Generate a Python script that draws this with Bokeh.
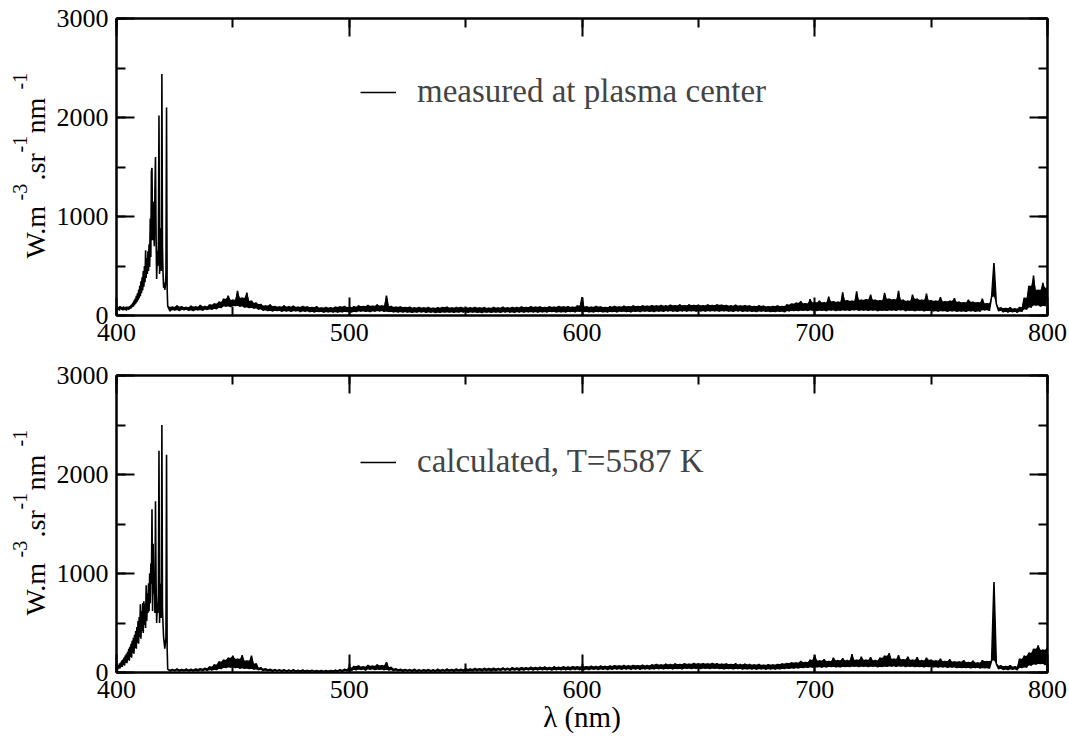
import numpy as np
from bokeh.plotting import figure
from bokeh.models import Range1d, LinearAxis, SingleIntervalTicker, Label, Legend, CustomJSTickFormatter
from bokeh.layouts import column, row
from bokeh.embed import file_html
from bokeh.resources import INLINE

# ---------------- data ----------------
# fine sampling (0.25 nm) from 400.00 to 421.75 nm, coarse (1 nm) from 422 to 800 nm
FINE_START, FINE_STEP = 400.0, 0.25
COARSE_START, COARSE_STEP = 422.0, 1.0

MEASURED_FINE = [
    85, 55, 90, 60,   80, 50, 95, 65,   88, 58, 82, 52,   92, 60, 78, 55,
    86, 50, 90, 62,   84, 58, 95, 66,   100, 72, 112, 85,  130, 90, 150, 105,
    170, 120, 200, 135,  225, 155, 260, 175,  300, 195, 345, 225,  385, 255, 450, 290,
    500, 335, 660, 380,  580, 420, 650, 450,  720, 490, 980, 590,  1450, 1490, 760, 1150,
    900, 700, 1250, 1600,  820, 370, 650, 500,  720, 2020, 420, 880,  650, 450, 2440, 700,
    420, 280, 330, 260,  300, 420, 2100, 280,
]
MEASURED_COARSE = [
    95, 45, 88, 52, 100, 48, 92, 55, 85, 50,
    98, 46, 90, 54, 105, 50, 94, 58, 110, 60,
    120, 65, 140, 75, 170, 90, 200, 85, 160, 95,
    250, 90, 180, 80, 230, 75, 150, 70, 130, 60,
    115, 50, 100, 45, 110, 42, 95, 46, 90, 40,
    100, 42, 92, 38, 98, 44, 88, 36, 95, 40,
    90, 35, 85, 32, 92, 36, 80, 30, 86, 34,
    82, 32, 88, 30, 90, 34, 95, 36, 85, 32,
    92, 36, 100, 40, 95, 38, 105, 36, 98, 40,
    110, 42, 100, 38, 200, 36, 95, 34, 88, 32,
    90, 32, 85, 30, 88, 28, 82, 30, 86, 32,
    80, 28, 84, 30, 78, 26, 82, 28, 85, 30,
    88, 30, 80, 28, 84, 30, 86, 32, 80, 28,
    82, 30, 86, 28, 80, 26, 84, 30, 78, 28,
    85, 30, 80, 28, 88, 32, 82, 30, 86, 28,
    84, 32, 90, 30, 86, 34, 92, 32, 88, 30,
    90, 34, 86, 32, 92, 36, 88, 32, 95, 34,
    90, 32, 94, 36, 88, 34, 100, 38, 185, 36,
    92, 34, 88, 32, 95, 36, 90, 34, 86, 32,
    92, 36, 96, 34, 90, 38, 98, 36, 94, 34,
    100, 38, 96, 36, 102, 40, 98, 38, 104, 36,
    100, 40, 106, 38, 102, 42, 108, 40, 104, 38,
    110, 42, 104, 40, 112, 44, 106, 40, 108, 42,
    104, 40, 110, 44, 106, 42, 112, 40, 108, 42,
    106, 40, 102, 38, 108, 42, 100, 38, 104, 40,
    100, 38, 96, 36, 102, 40, 98, 38, 94, 36,
    96, 36, 100, 38, 95, 34, 110, 42, 120, 45,
    130, 45, 145, 48, 125, 46, 165, 50, 135, 46,
    150, 48, 135, 44, 190, 50, 145, 46, 140, 48,
    235, 50, 155, 46, 150, 52, 245, 48, 160, 50,
    165, 46, 210, 50, 160, 44, 155, 48, 230, 46,
    170, 50, 165, 46, 250, 52, 160, 44, 150, 48,
    210, 44, 170, 48, 160, 42, 220, 46, 155, 42,
    150, 40, 185, 44, 145, 38, 150, 42, 175, 38,
    140, 40, 135, 36, 160, 42, 140, 38, 135, 40,
    170, 52, 125, 48, 190, 530, 120, 45, 80, 35,
    75, 32, 82, 35, 70, 30, 85, 38, 180, 60,
    300, 80, 404, 100, 260, 90, 330, 95, 280,
]

CALC_FINE = [
    30, 60, 25, 70,   45, 90, 40, 100,   60, 120, 55, 130,   80, 150, 70, 170,
    100, 190, 95, 210,  130, 240, 120, 260,  160, 290, 150, 320,  200, 350, 190, 380,
    250, 420, 240, 460,  300, 520, 290, 560,  360, 690, 340, 620,  420, 700, 400, 720,
    480, 690, 450, 880,  520, 800, 600, 900,  620, 1000, 700, 1100,  900, 1650, 620, 1300,
    800, 1000, 600, 1730,  900, 500, 700, 600,  800, 2240, 500, 900,  700, 550, 2500, 650,
    480, 350, 300, 240,  300, 350, 2200, 250,
]
CALC_COARSE = [
    35, 15, 30, 18, 38, 14, 32, 16, 36, 15,
    34, 14, 38, 16, 40, 18, 45, 20, 60, 22,
    80, 25, 110, 35, 130, 45, 150, 50, 170, 45,
    140, 40, 175, 38, 120, 35, 170, 30, 90, 25,
    50, 18, 40, 15, 35, 12, 30, 14, 28, 12,
    30, 10, 26, 12, 28, 10, 24, 8, 26, 10,
    22, 8, 24, 10, 20, 8, 22, 6, 20, 8,
    22, 8, 25, 10, 28, 12, 35, 15, 50, 20,
    65, 25, 70, 28, 60, 22, 75, 30, 68, 26,
    80, 28, 72, 24, 105, 22, 55, 18, 40, 15,
    35, 12, 32, 14, 30, 12, 34, 10, 28, 12,
    30, 10, 32, 12, 28, 10, 34, 12, 30, 14,
    36, 14, 32, 12, 38, 16, 34, 14, 40, 16,
    38, 15, 42, 18, 40, 16, 44, 18, 42, 16,
    45, 18, 42, 20, 48, 22, 44, 20, 50, 22,
    48, 20, 52, 22, 50, 24, 55, 22, 52, 24,
    55, 24, 58, 26, 54, 22, 60, 26, 56, 24,
    60, 26, 58, 24, 62, 28, 60, 26, 64, 28,
    62, 26, 66, 30, 64, 28, 68, 30, 65, 28,
    68, 30, 72, 32, 70, 30, 74, 32, 70, 30,
    75, 32, 72, 30, 78, 34, 74, 32, 80, 34,
    85, 35, 80, 34, 88, 36, 84, 34, 90, 36,
    86, 34, 92, 38, 88, 36, 95, 38, 90, 36,
    94, 38, 90, 36, 96, 38, 92, 36, 88, 34,
    90, 36, 86, 34, 92, 36, 84, 32, 88, 34,
    84, 32, 80, 30, 86, 34, 78, 30, 82, 32,
    80, 32, 86, 34, 90, 36, 95, 38, 100, 40,
    100, 42, 115, 45, 105, 48, 130, 50, 175, 52,
    120, 50, 135, 52, 115, 55, 150, 54, 125, 52,
    145, 56, 125, 55, 185, 58, 130, 56, 160, 58,
    130, 55, 155, 58, 125, 54, 150, 56, 170, 58,
    195, 60, 140, 58, 175, 60, 135, 56, 160, 58,
    130, 55, 155, 56, 125, 52, 150, 55, 130, 52,
    120, 50, 140, 52, 115, 48, 135, 50, 110, 46,
    110, 45, 125, 46, 105, 44, 120, 45, 100, 42,
    125, 44, 115, 40, 120, 915, 90, 35, 70, 28,
    65, 26, 72, 30, 60, 25, 140, 45, 170, 50,
    200, 70, 240, 80, 275, 85, 230, 75, 260,
]

LEGEND_TOP = "measured at plasma center"
LEGEND_BOTTOM = "calculated, T=5587 K"
X_LABEL = "λ (nm)"
Y_LABEL_PARTS = [("W.m", False), ("-3", True), (".sr", False), ("-1", True), ("nm", False), ("-1", True)]
X_RANGE = (400, 800)
Y_RANGE = (0, 3000)
X_MAJOR, Y_MAJOR = 100, 1000

FONT = "Liberation Serif"
LABEL_W = 50


def spectrum(fine, coarse):
    wl_f = FINE_START + FINE_STEP * np.arange(len(fine))
    wl_c = COARSE_START + COARSE_STEP * np.arange(len(coarse))
    return np.concatenate([wl_f, wl_c]), np.array(list(fine) + list(coarse), dtype=float)


def zigzag_interior(y):
    # inner envelope of the noisy trace, so the dense noise reads as a solid band
    pad = np.concatenate([[y[0]], y, [y[-1]]])
    prev, nxt = pad[:-2], pad[2:]
    hi = np.maximum(y, np.minimum(prev, nxt))
    lo = np.minimum(y, np.maximum(prev, nxt))
    return lo, hi


def style_axis(ax, interval, show_labels=True):
    ax.ticker = SingleIntervalTicker(interval=interval, num_minor_ticks=2)
    ax.major_tick_in = 18
    ax.major_tick_out = 0
    ax.minor_tick_in = 9
    ax.minor_tick_out = 0
    ax.major_tick_line_width = 2
    ax.minor_tick_line_width = 2
    ax.axis_line_width = 2
    ax.major_tick_line_color = "black"
    ax.minor_tick_line_color = "black"
    ax.axis_line_color = "black"
    ax.major_label_text_font = FONT
    ax.major_label_text_color = "black"
    if show_labels:
        ax.major_label_text_font_size = "26px"
        ax.major_label_standoff = 8
    else:
        ax.formatter = CustomJSTickFormatter(code="return ''")
        ax.major_label_text_font_size = "0px"
        ax.major_label_standoff = 0


def make_label_fig(height):
    # narrow companion figure whose frame lines up with the panel frame; holds the y label
    lf = figure(width=LABEL_W, height=height, x_range=Range1d(0, LABEL_W), y_range=Range1d(0, 1),
                output_backend="svg", toolbar_location=None, min_border=0,
                x_axis_location=None, y_axis_location=None)
    lf.grid.visible = False
    lf.outline_line_color = None
    lf.background_fill_color = "white"
    lf.border_fill_color = "white"
    start = 57  # px above the frame bottom
    offsets = [0, 58, 78, 106, 125, 169]
    for (txt, sup), off in zip(Y_LABEL_PARTS, offsets):
        lf.add_layout(Label(x=19 if sup else 35, y=start + off, x_units="screen", y_units="screen",
                            text=txt, angle=np.pi / 2, text_font=FONT,
                            text_font_size="20px" if sup else "28px",
                            text_align="left", text_baseline="middle", text_color="black"))
    return lf


def make_panel(fine, coarse, legend_text, legend_y, height, border_top, border_bottom, xlabel=None):
    p = figure(width=1069 - LABEL_W, height=height, x_range=Range1d(*X_RANGE), y_range=Range1d(*Y_RANGE),
               output_backend="svg", toolbar_location=None,
               min_border_left=116 - LABEL_W, min_border_right=22,
               min_border_top=border_top, min_border_bottom=border_bottom)
    p.grid.visible = False
    p.outline_line_color = "black"
    p.outline_line_width = 2
    p.background_fill_color = "white"
    p.border_fill_color = "white"

    wl, val = spectrum(fine, coarse)
    lo, hi = zigzag_interior(val)
    p.varea(x=wl, y1=lo, y2=hi, fill_color="black")
    r = p.line(wl, val, line_color="black", line_width=1.6)

    xb = p.xaxis[0]
    yl = p.yaxis[0]
    style_axis(xb, X_MAJOR)
    style_axis(yl, Y_MAJOR)
    top = LinearAxis()
    style_axis(top, X_MAJOR, show_labels=False)
    p.add_layout(top, "above")
    right = LinearAxis()
    style_axis(right, Y_MAJOR, show_labels=False)
    p.add_layout(right, "right")

    if xlabel:
        xb.axis_label = xlabel
        xb.axis_label_text_font = FONT
        xb.axis_label_text_font_style = "normal"
        xb.axis_label_text_font_size = "29px"
        xb.axis_label_text_color = "black"
        xb.axis_label_standoff = 0

    legend = Legend(items=[(legend_text, [r])], location=(244, legend_y),
                    border_line_alpha=0, background_fill_alpha=0,
                    label_text_font=FONT, label_text_font_size="33px",
                    glyph_width=36, glyph_height=20, label_standoff=21,
                    padding=0, margin=0, spacing=0)
    p.add_layout(legend)
    return p


H1, T1, B1 = 360, 18, 45
H2, T2, B2 = 378, 15, 66
p1 = make_panel(MEASURED_FINE, MEASURED_COARSE, LEGEND_TOP, 205, H1, T1, B1)
p2 = make_panel(CALC_FINE, CALC_COARSE, LEGEND_BOTTOM, 192, H2, T2, B2, xlabel=X_LABEL)
l1 = make_label_fig(H1)
l2 = make_label_fig(H2)

layout = column(row(l1, p1, spacing=0), row(l2, p2, spacing=0), spacing=0)
open("out.html", "w").write(file_html(layout, INLINE))
